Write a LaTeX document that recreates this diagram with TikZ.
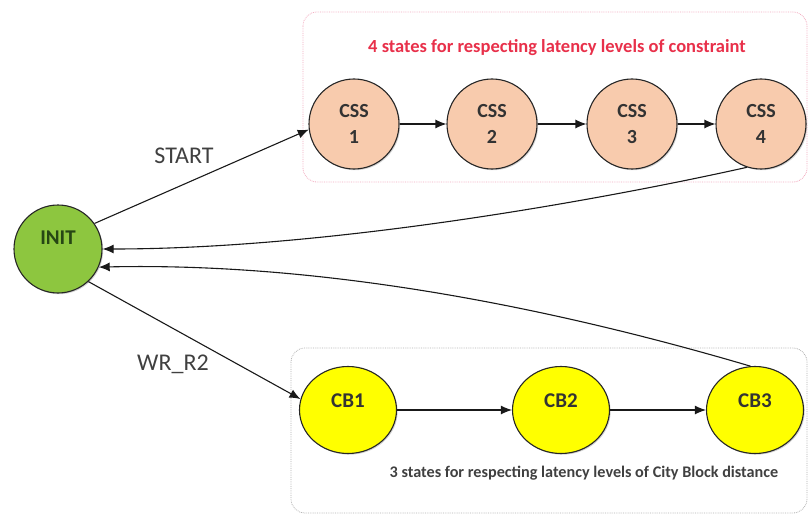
\documentclass[tikz,border=0pt]{standalone}
\usepackage{fontspec}
\setmainfont{Carlito}
\usetikzlibrary{arrows.meta,shapes.geometric,shadows}

\definecolor{initgreen}{RGB}{141,198,63}
\definecolor{initink}{RGB}{38,70,20}
\definecolor{csspeach}{RGB}{248,203,173}
\definecolor{cbyellow}{RGB}{255,255,0}
\definecolor{boxpink}{RGB}{242,170,190}
\definecolor{boxgray}{RGB}{175,175,175}
\definecolor{titlered}{RGB}{232,48,74}
\definecolor{textgray}{RGB}{64,64,64}

\begin{document}
\begin{tikzpicture}[x=1pt,y=-1pt,
  statebase/.style={draw=black!85, line width=1.1pt, inner sep=0pt,
    drop shadow={shadow xshift=1.2pt, shadow yshift=-1.2pt, opacity=0.35}},
  initstate/.style={statebase, circle, fill=initgreen, minimum size=88pt,
    font=\fontsize{21}{24}\selectfont\bfseries, text=initink,
    text height=12pt, text depth=21pt},
  cssstate/.style={statebase, circle, fill=csspeach, minimum size=90pt,
    align=center, font=\fontsize{20}{26}\selectfont\bfseries, text=black!80},
  cbstate/.style={statebase, ellipse, fill=cbyellow, minimum width=97pt,
    minimum height=87pt, font=\fontsize{21}{24}\selectfont\bfseries,
    text=black!80, text height=12pt, text depth=17pt},
  groupbox/.style={rounded corners=14pt, densely dotted, line width=0.8pt},
  edgelabel/.style={font=\fontsize{24}{27}\selectfont, text=textgray},
  flow/.style={-{Latex[length=11pt,width=9pt]}, line width=1.1pt, draw=black!90}
]
\useasboundingbox (0,0) rectangle (811,524);

% group frames
\draw[groupbox, draw=boxpink] (303,12) rectangle (807,182);
\draw[groupbox, draw=boxgray] (291,348) rectangle (807,513);

\node[font=\fontsize{18.5}{21}\selectfont\bfseries, text=titlered] (toptitle) at (557,48)
  {4 states for respecting latency levels of constraint};
\node[font=\fontsize{16.2}{19}\selectfont\bfseries, text=textgray] (bottomtitle) at (584,473)
  {3 states for respecting latency levels of City Block distance};

% states
\node[initstate] (INIT) at (58,249) {INIT};

\node[cssstate] (CSS1) at (354,124) {CSS\\1};
\node[cssstate] (CSS2) at (492,124) {CSS\\2};
\node[cssstate] (CSS3) at (632,124) {CSS\\3};
\node[cssstate] (CSS4) at (761,124) {CSS\\4};

\node[cbstate] (CB1) at (348,410) {CB1};
\node[cbstate] (CB2) at (561,410) {CB2};
\node[cbstate] (CB3) at (755,410) {CB3};

% transitions
\draw[flow] (INIT.35) -- (CSS1.187);
\draw[flow] (INIT.-47) -- (CB1.167);

\draw[flow] (CSS1) -- (CSS2);
\draw[flow] (CSS2) -- (CSS3);
\draw[flow] (CSS3) -- (CSS4);

\draw[flow] (CB1) -- (CB2);
\draw[flow] (CB2) -- (CB3);

\draw[flow] (CSS4.252) .. controls (600,200) and (330,249) .. (INIT.0);
\draw[flow] (CB3.96) .. controls (560,310) and (330,262) .. (INIT.-24);

% edge labels
\node[edgelabel] (startlabel) at (184,156) {START};
\node[edgelabel] (wrlabel) at (173,364) {WR\_R2};

\end{tikzpicture}
\end{document}
